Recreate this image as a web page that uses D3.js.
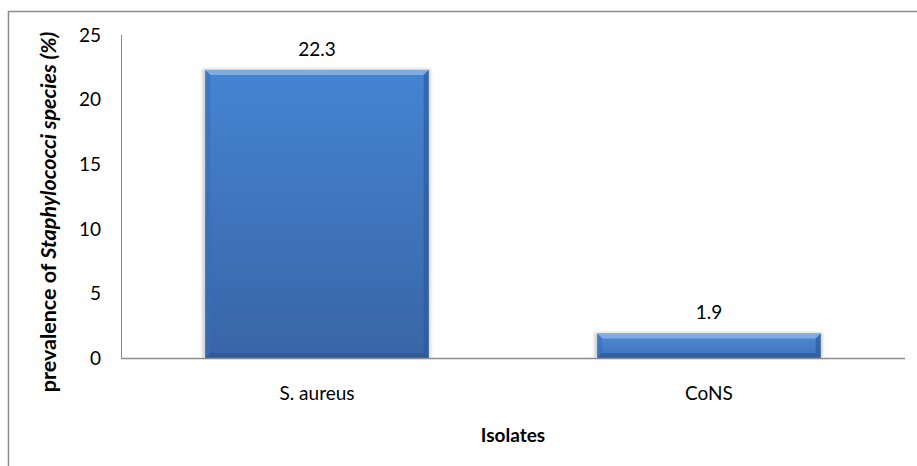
<!DOCTYPE html>
<html><head><meta charset="utf-8">
<script src="https://cdn.jsdelivr.net/npm/d3@7"></script>
<style>body{margin:0;background:#fff;}svg{display:block;font-family:Lato,"Open Sans",sans-serif;}</style>
</head><body>
<script>
const categories = ["S. aureus", "CoNS"];
const values = [22.3, 1.9];
const yTicks = [0, 5, 10, 15, 20, 25];
const xTitle = "Isolates";

(function () {
const W = 917, H = 466;
const svg = d3.select("body").append("svg").attr("width", W).attr("height", H);

// outer frame
svg.append("rect").attr("x", 8.5).attr("y", 11.5).attr("width", 930).attr("height", 470)
  .attr("fill", "none").attr("stroke", "#8c8c8c").attr("stroke-width", 1.5);

const pL = 121, pR = 905, pT = 35, pB = 358;
const x = d3.scaleBand().domain(categories).range([pL, pR]).paddingInner(0.43).paddingOuter(0.215);
const y = d3.scaleLinear().domain([0, 25]).range([pB, pT]);

const defs = svg.append("defs");
const g = defs.append("linearGradient").attr("id", "barGrad").attr("x1", 0).attr("y1", 0).attr("x2", 0).attr("y2", 1);
g.append("stop").attr("offset", "0%").attr("stop-color", "#4584d3");
g.append("stop").attr("offset", "100%").attr("stop-color", "#3865a6");
const gs = defs.append("linearGradient").attr("id", "barGradS").attr("x1", 0).attr("y1", 0).attr("x2", 0).attr("y2", 1);
gs.append("stop").attr("offset", "0%").attr("stop-color", "#4e8ad6");
gs.append("stop").attr("offset", "100%").attr("stop-color", "#3f73bb");
const f = defs.append("filter").attr("id", "shadow").attr("x", "-10%").attr("y", "-10%").attr("width", "120%").attr("height", "120%");
f.append("feGaussianBlur").attr("stdDeviation", 1.5);

// y axis
svg.append("line").attr("x1", pL + 0.5).attr("x2", pL + 0.5).attr("y1", pT).attr("y2", pB)
  .attr("stroke", "#8c8c8c").attr("stroke-width", 1);
svg.append("g").selectAll("text").data(yTicks).join("text")
  .attr("x", 101).attr("y", d => y(d)).attr("dy", "0.36em").attr("text-anchor", "end")
  .attr("font-size", 19).attr("fill", "#000").text(d => d);

// bars
const bars = svg.append("g").selectAll("g").data(values).join("g");
bars.each(function(v, i) {
  const sel = d3.select(this);
  const bx = x(categories[i]), bw = x.bandwidth(), by = y(v), bh = y(0) - y(v);
  const b = Math.min(5, bh / 3);
  sel.append("rect").attr("x", bx - 3).attr("y", by - 1).attr("width", bw + 5).attr("height", bh + 1)
    .attr("fill", "#9a9a9a").attr("opacity", 0.45).attr("filter", "url(#shadow)");
  sel.append("rect").attr("x", bx).attr("y", by).attr("width", bw).attr("height", bh)
    .attr("fill", bh > 60 ? "url(#barGrad)" : "url(#barGradS)");
  sel.append("polygon").attr("points", `${bx},${by} ${bx+bw},${by} ${bx+bw-b},${by+b} ${bx+b},${by+b}`)
    .attr("fill", "#8fbaec").attr("opacity", 0.75);
  sel.append("polygon").attr("points", `${bx},${by} ${bx+b},${by+b} ${bx+b},${by+bh-b} ${bx},${by+bh}`)
    .attr("fill", "#3a6eb5").attr("opacity", 0.55);
  sel.append("polygon").attr("points", `${bx+bw},${by} ${bx+bw-b},${by+b} ${bx+bw-b},${by+bh-b} ${bx+bw},${by+bh}`)
    .attr("fill", "#2c5794").attr("opacity", 0.6);
  sel.append("polygon").attr("points", `${bx},${by+bh} ${bx+b},${by+bh-b} ${bx+bw-b},${by+bh-b} ${bx+bw},${by+bh}`)
    .attr("fill", "#2a518a").attr("opacity", 0.6);
  sel.append("text").attr("x", bx + bw / 2).attr("y", by - 14).attr("text-anchor", "middle")
    .attr("font-size", 19).attr("fill", "#000").text(v);
});

// x axis
svg.append("line").attr("x1", pL).attr("x2", pR).attr("y1", pB + 0.5).attr("y2", pB + 0.5)
  .attr("stroke", "#8c8c8c").attr("stroke-width", 1.5);
svg.append("g").selectAll("text").data(categories).join("text")
  .attr("x", d => x(d) + x.bandwidth() / 2).attr("y", 400).attr("text-anchor", "middle")
  .attr("font-size", 19).attr("fill", "#000").text(d => d);

svg.append("text").attr("x", (pL + pR) / 2).attr("y", 442).attr("text-anchor", "middle")
  .attr("font-size", 19).attr("font-weight", "bold").attr("fill", "#000").text(xTitle);

// y title
const yt = svg.append("text").attr("transform", `translate(56,212) rotate(-90)`)
  .attr("text-anchor", "middle").attr("font-size", 21.5).attr("font-weight", "bold").attr("fill", "#000");
yt.append("tspan").text("prevalence of ");
yt.append("tspan").attr("font-style", "italic").text("Staphylococci species");
yt.append("tspan").attr("font-style", "italic").text(" (%)");
})();
</script>
</body></html>
